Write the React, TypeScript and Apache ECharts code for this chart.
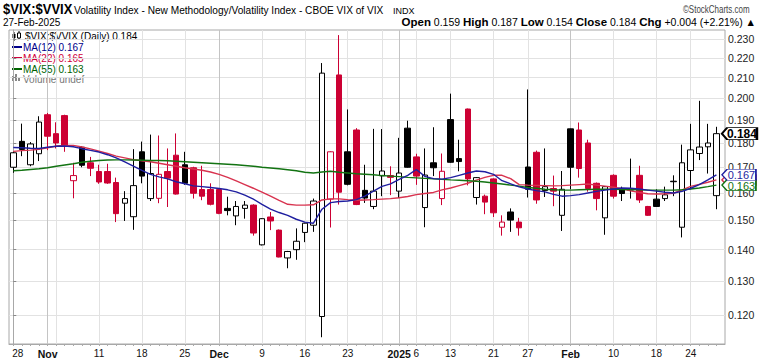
import { useEffect, useRef } from 'react';
import * as echarts from 'echarts';

const dates = [
  '2024-10-28','2024-10-29','2024-10-30','2024-10-31',
  '2024-11-01','2024-11-04','2024-11-05','2024-11-06','2024-11-07','2024-11-08','2024-11-11','2024-11-12','2024-11-13','2024-11-14','2024-11-15','2024-11-18','2024-11-19','2024-11-20','2024-11-21','2024-11-22','2024-11-25','2024-11-26','2024-11-27','2024-11-29',
  '2024-12-02','2024-12-03','2024-12-04','2024-12-05','2024-12-06','2024-12-09','2024-12-10','2024-12-11','2024-12-12','2024-12-13','2024-12-16','2024-12-17','2024-12-18','2024-12-19','2024-12-20','2024-12-23','2024-12-24','2024-12-26','2024-12-27','2024-12-30','2024-12-31',
  '2025-01-02','2025-01-03','2025-01-06','2025-01-07','2025-01-08','2025-01-10','2025-01-13','2025-01-14','2025-01-15','2025-01-16','2025-01-17','2025-01-21','2025-01-22','2025-01-23','2025-01-24','2025-01-27','2025-01-28','2025-01-29','2025-01-30','2025-01-31',
  '2025-02-03','2025-02-04','2025-02-05','2025-02-06','2025-02-07','2025-02-10','2025-02-11','2025-02-12','2025-02-13','2025-02-14','2025-02-18','2025-02-19','2025-02-20','2025-02-21','2025-02-24','2025-02-25','2025-02-26','2025-02-27'
];

const opens = [0.170,0.1807,0.171,0.1755,0.1924,0.184,0.192,0.1647,0.1782,0.1718,
0.1683,0.1683,0.164,0.1562,0.1513,0.1763,0.1579,0.158,0.1683,0.1749,
0.171,0.1698,0.1613,0.1613,0.1613,0.1543,0.1516,0.1543,0.1555,0.1416,
0.1512,0.1466,0.1373,0.140,0.1458,0.1483,0.1196,0.1577,0.2113,0.1763,
0.1856,0.161,0.155,0.1666,0.1667,0.1607,0.1864,0.1742,0.1546,0.1718,
0.1579,0.1902,0.1735,0.195,0.1583,0.1588,0.1654,0.1476,0.153,0.1494,
0.1701,0.1761,0.1609,0.1617,0.1518,0.1861,0.1856,0.180,0.1637,0.1509,
0.1668,0.1614,0.1613,0.1668,0.155,0.1577,0.1579,0.1645,0.1476,0.1687,
0.1756,0.1784,0.159];

const highs = [0.1764,0.1884,0.1804,0.1917,0.1932,0.189,0.1924,0.1718,0.1786,0.1742,
0.171,0.1714,0.1659,0.1607,0.1774,0.1806,0.1836,0.1832,0.1777,0.1841,
0.1763,0.1702,0.1706,0.1637,0.1616,0.1586,0.157,0.157,0.1558,0.1508,
0.153,0.1468,0.1396,0.1472,0.1492,0.1579,0.2173,0.1765,0.2321,0.1948,
0.1864,0.171,0.1861,0.186,0.1704,0.1822,0.1897,0.1755,0.1777,0.1868,
0.1756,0.2022,0.1814,0.1952,0.1661,0.1594,0.1656,0.1518,0.1543,0.1509,
0.2042,0.1768,0.1777,0.1667,0.1685,0.1862,0.1889,0.1814,0.164,0.1626,
0.1672,0.1624,0.1735,0.1706,0.1552,0.1614,0.1624,0.1668,0.1793,0.1883,
0.1988,0.1883,0.187];

const lows = [0.1678,0.1745,0.1704,0.1725,0.177,0.1777,0.1763,0.158,0.170,0.1665,
0.1635,0.1635,0.1494,0.1498,0.1467,0.1637,0.157,0.1562,0.1548,0.1594,
0.1631,0.1579,0.1573,0.1554,0.1522,0.1518,0.1483,0.1506,0.1447,0.1414,
0.1466,0.1375,0.134,0.1367,0.1425,0.146,0.1139,0.1475,0.1557,0.1629,
0.1555,0.1563,0.154,0.1588,0.1592,0.1581,0.1698,0.1631,0.1476,0.1665,
0.1555,0.1718,0.1684,0.1629,0.1557,0.1522,0.1512,0.1447,0.146,0.1447,
0.1583,0.156,0.1585,0.1551,0.1463,0.1614,0.1659,0.1605,0.1536,0.145,
0.1579,0.157,0.1579,0.1563,0.1516,0.1548,0.157,0.1588,0.1441,0.1614,
0.1729,0.1675,0.154];

const closes = [0.1759,0.1773,0.1796,0.1891,0.1829,0.180,0.1786,0.1667,0.1708,0.1696,
0.1642,0.1638,0.1524,0.1579,0.1628,0.1665,0.1675,0.1672,0.1657,0.1596,
0.1637,0.1599,0.1588,0.1558,0.1525,0.1535,0.155,0.1555,0.1456,0.1506,
0.1498,0.1376,0.1394,0.1428,0.149,0.157,0.2122,0.1763,0.1603,0.1633,
0.1557,0.1581,0.1607,0.1685,0.166,0.1677,0.170,0.1665,0.1669,0.1698,
0.1684,0.172,0.1723,0.1654,0.1659,0.1566,0.1527,0.1494,0.1501,0.1474,
0.1614,0.1574,0.1624,0.1607,0.1614,0.170,0.1695,0.1617,0.1579,0.1624,
0.1588,0.1598,0.1611,0.1574,0.1518,0.155,0.1593,0.1643,0.1718,0.1771,
0.1783,0.180,0.184];

const ma12 = [0.1781,0.178,0.1778,0.1777,0.1782,0.1786,0.1787,0.1784,0.1776,0.1769,
0.1762,0.1751,0.1738,0.1722,0.1705,0.1688,0.1672,0.1662,0.1654,0.1643,
0.1635,0.1627,0.1624,0.1621,0.1617,0.1612,0.1604,0.1592,0.1577,0.1558,
0.154,0.1528,0.1518,0.1504,0.1494,0.149,0.154,0.1564,0.1568,0.157,
0.1575,0.1588,0.1607,0.1625,0.1635,0.1652,0.1668,0.1691,0.1664,0.1655,
0.1653,0.1659,0.1668,0.1677,0.1685,0.1682,0.1672,0.1647,0.1635,0.1623,
0.1615,0.1609,0.1604,0.1595,0.1588,0.159,0.1594,0.16,0.1606,0.1611,
0.1615,0.1619,0.1618,0.1615,0.1611,0.1607,0.1603,0.16,0.1606,0.1618,
0.1632,0.165,0.167];

const ma22 = [0.1765,0.1768,0.177,0.1773,0.178,0.1787,0.179,0.179,0.1783,0.1775,
0.1766,0.1756,0.1745,0.1738,0.1731,0.1726,0.1722,0.1716,0.171,0.1704,
0.1698,0.1693,0.1688,0.1681,0.1672,0.166,0.1646,0.1632,0.1618,0.1603,
0.1588,0.1572,0.1558,0.1555,0.1555,0.1556,0.1574,0.1578,0.1578,0.1575,
0.1573,0.1574,0.1575,0.1577,0.1579,0.1582,0.1587,0.1594,0.1598,0.1602,
0.1612,0.1619,0.1628,0.1637,0.1649,0.166,0.1668,0.1668,0.1655,0.1632,
0.163,0.1629,0.1628,0.1627,0.1628,0.163,0.1632,0.1634,0.163,0.1626,
0.1622,0.1616,0.1608,0.1602,0.1597,0.1596,0.1597,0.1599,0.1612,0.1625,
0.1633,0.1641,0.165];

const ma55 = [0.1686,0.1688,0.1691,0.1694,0.1698,0.1704,0.1709,0.1714,0.172,0.1724,
0.1727,0.1729,0.173,0.173,0.1729,0.1728,0.1727,0.1727,0.1726,0.1724,
0.1722,0.172,0.1718,0.1716,0.1714,0.1712,0.171,0.1707,0.1704,0.17,
0.1697,0.1694,0.169,0.1686,0.168,0.1677,0.1681,0.1684,0.168,0.1677,
0.1674,0.1672,0.167,0.1667,0.1665,0.1663,0.166,0.1658,0.1656,0.1654,
0.1652,0.165,0.1649,0.1647,0.1645,0.1642,0.1638,0.1634,0.163,0.1626,
0.1621,0.1618,0.1614,0.1612,0.1611,0.1611,0.1612,0.1613,0.1614,0.1614,
0.1614,0.1613,0.1613,0.1612,0.1611,0.1611,0.1611,0.1611,0.1612,0.1615,
0.1619,0.1624,0.163];

const priceTicks = [0.12,0.13,0.14,0.15,0.16,0.17,0.18,0.19,0.20,0.21,0.22,0.23];
const labelDates = ['2024-10-28','2024-11-01','2024-11-11','2024-11-18','2024-11-25','2024-12-02','2024-12-09','2024-12-16','2024-12-23','2025-01-02','2025-01-06','2025-01-13','2025-01-21','2025-01-27','2025-02-03','2025-02-10','2025-02-18','2025-02-24'];
const labelTexts = ['28','Nov','11','18','25','Dec','9','16','23','2025','6','13','21','27','Feb','10','18','24'];
const monthLabels = ['Nov','Dec','2025','Feb'];

const FONT = '"Liberation Sans", Arial, sans-serif';
const UP_RED = '#cc0033';
const BLUE = '#1f1fa0';
const RED = '#d8334f';
const GREEN = '#127312';

export default function App() {
  const ref = useRef<HTMLDivElement>(null);
  useEffect(() => {
    const chart = echarts.init(ref.current!, null, { renderer: 'svg' });
    const idx = dates.map((_, i) => i);
    const weekStart = idx.filter((i) => {
      if (i === 0) return false;
      const d = new Date(dates[i] + 'T00:00:00Z');
      const p = new Date(dates[i - 1] + 'T00:00:00Z');
      return d.getUTCDay() < p.getUTCDay() || (d.getTime() - p.getTime()) > 3 * 86400000;
    });
    const monthStart = idx.filter((i) => i > 0 && dates[i].slice(0, 7) !== dates[i - 1].slice(0, 7));
    const weekLines = weekStart.filter((i) => monthStart.indexOf(i) < 0);
    const labelIdx = labelDates.map((d) => dates.indexOf(d));
    const labelMap: Record<number, string> = {};
    labelIdx.forEach((k, j) => { labelMap[k] = labelTexts[j]; });

    const ln = Math.log;
    const candleData = idx.map((i) => {
      const up = closes[i] >= opens[i];
      const black = i === 0 || closes[i] >= closes[i - 1];
      const c = black ? '#000' : UP_RED;
      return {
        value: [i, ln(opens[i]), ln(closes[i]), ln(lows[i]), ln(highs[i])],
        itemStyle: up
          ? { color: '#fff', borderColor: c, color0: '#fff', borderColor0: c }
          : { color: c, borderColor: c, color0: c, borderColor0: c },
      };
    });
    const last = idx.length - 1;
    const tag = (val: number, color: string, bold: boolean, z: number) => ({
      z,
      silent: true,
      data: [{ coord: [last, ln(val)], value: val }],
      symbol: 'path://M0,6L6,0L40,0L40,12L6,12Z',
      symbolKeepAspect: false,
      symbolSize: bold ? [35, 12] : [34, 11],
      symbolOffset: [bold ? 23 : 22.5, 0],
      itemStyle: { color: '#fff', borderColor: color, borderWidth: bold ? 1.5 : 1 },
      label: {
        show: true, position: 'inside', offset: [2.5, 0.5],
        formatter: () => val.toFixed(3), color: bold ? '#000' : color,
        fontSize: bold ? 12 : 11, fontWeight: bold ? 'bold' : 'normal', fontFamily: FONT,
      },
    });
    const lineSeries = (name: string, vals: number[], color: string, val: number, z: number) => ({
      name, type: 'line', xAxisIndex: 0, yAxisIndex: 0,
      data: vals.map((v, i) => [i, ln(v)]),
      showSymbol: false, symbol: 'none', smooth: false,
      lineStyle: { color, width: 1.4 }, z: 3,
      markPoint: tag(val, color, false, z),
    });

    const txt = (x: number, y: number, text: string, font: string, fill: string, extra: any = {}) => ({
      type: 'text', silent: true, x, y, ...extra,
      style: { text, font, fill, align: 'left', verticalAlign: 'top', ...(extra.style || {}) },
    });
    const LEG = '10px ' + FONT;
    const option: any = {
      animation: false,
      backgroundColor: '#fff',
      grid: { left: 9, right: 41, top: 30, bottom: 14, show: true, borderColor: '#a8a8a8', borderWidth: 1, containLabel: false },
      xAxis: [
        {
          type: 'value', min: -0.5, max: 83, position: 'bottom',
          axisLine: { show: true, lineStyle: { color: '#a8a8a8' } },
          axisTick: { show: false, customValues: weekLines },
          splitLine: { show: true, lineStyle: { color: '#e2e2e2', width: 1 } },
          axisLabel: {
            customValues: labelIdx, margin: 4, color: '#111', fontSize: 10, fontFamily: FONT,
            formatter: (v: number) => {
              const t = labelMap[Math.round(v)] || '';
              if (Math.round(v) === 0) return '{f|' + t + '}';
              return monthLabels.indexOf(t) >= 0 ? '{b|' + t + '}' : t;
            },
            rich: {
              b: { fontWeight: 'bold', fontSize: 10.5, fontFamily: FONT, color: '#111' },
              f: { padding: [0, 0, 0, 9], fontSize: 10, fontFamily: FONT, color: '#111' },
            },
          },
        },
        {
          type: 'value', min: -0.5, max: 83, position: 'top',
          axisLine: { show: false }, axisLabel: { show: false },
          axisTick: { show: false, customValues: monthStart },
          splitLine: { show: true, lineStyle: { color: '#c4c4c4', width: 1 } },
        },
        {
          type: 'value', min: -0.5, max: 83, position: 'bottom', offset: 0,
          axisLine: { show: false }, axisLabel: { show: false },
          axisTick: { show: true, customValues: idx, length: 2, lineStyle: { color: '#aaa' } },
          splitLine: { show: false },
        },
      ],
      yAxis: {
        type: 'value', position: 'right', min: ln(0.1121), max: ln(0.2349),
        axisLine: { show: true, lineStyle: { color: '#a8a8a8' } },
        axisTick: { show: true, inside: false, length: 3, customValues: priceTicks.map((p) => ln(p)), lineStyle: { color: '#888' } },
        splitLine: { show: true, lineStyle: { color: '#e2e2e2', width: 1 } },
        axisLabel: {
          customValues: priceTicks.map((p) => ln(p)), margin: 3, color: '#222', fontSize: 10.5,
          fontFamily: FONT,
          formatter: (v: number) => Math.exp(v).toFixed(3),
        },
      },
      series: [
        {
          name: '$VIX:$VVIX', type: 'candlestick', xAxisIndex: 0, yAxisIndex: 0,
          data: candleData, barWidth: 6, z: 2,
          itemStyle: { borderWidth: 1 },
          markPoint: tag(closes[last], '#000', true, 8),
        },
        lineSeries('MA(22)', ma22, RED, ma22[last], 5),
        lineSeries('MA(55)', ma55, GREEN, ma55[last], 6),
        lineSeries('MA(12)', ma12, BLUE, ma12[last], 7),
      ],
      graphic: [
        txt(3, 1, '$VIX:$VVIX', 'bold 15.5px ' + FONT, '#000', { scaleX: 0.84 }),
        txt(74, 4, 'Volatility Index - New Methodology/Volatility Index - CBOE VIX of VIX', '11.5px ' + FONT, '#000', { scaleX: 0.88 }),
        txt(393, 6, 'INDX', '9px ' + FONT, '#000'),
        txt(683, 4, '©StockCharts.com', '10.5px ' + FONT, '#444', { scaleX: 0.76 }),
        txt(3, 17, '27-Feb-2025', '10px ' + FONT, '#000'),
        {
          type: 'text', silent: true, x: 756, y: 16,
          style: {
            text: '{b|Open} 0.159 {b|High} 0.187 {b|Low} 0.154 {b|Close} 0.184 {b|Chg} +0.004 (+2.21%) ▲',
            font: '10.5px ' + FONT, fill: '#000', align: 'right', verticalAlign: 'top',
            rich: { b: { font: 'bold 11.5px ' + FONT, fill: '#000' } },
          },
        },
        // legend
        { type: 'line', silent: true, shape: { x1: 14, y1: 32, x2: 14, y2: 41 }, style: { stroke: '#000', lineWidth: 1 } },
        { type: 'rect', silent: true, shape: { x: 12.5, y: 34, width: 3, height: 4 }, style: { fill: '#000' } },
        { type: 'line', silent: true, shape: { x1: 19, y1: 31, x2: 19, y2: 40 }, style: { stroke: '#000', lineWidth: 1 } },
        { type: 'rect', silent: true, shape: { x: 17.5, y: 33, width: 3, height: 5 }, style: { fill: '#fff', stroke: '#000', lineWidth: 1 } },
        txt(25, 31, '$VIX:$VVIX (Daily) 0.184', LEG, '#000'),
        { type: 'line', silent: true, shape: { x1: 12, y1: 47, x2: 22, y2: 47 }, style: { stroke: '#00008b', lineWidth: 2 } },
        txt(23, 42, 'MA(12) 0.167', LEG, '#00008b'),
        { type: 'line', silent: true, shape: { x1: 12, y1: 58, x2: 22, y2: 58 }, style: { stroke: '#d0003a', lineWidth: 2 } },
        txt(23, 53, 'MA(22) 0.165', LEG, '#d0003a'),
        { type: 'line', silent: true, shape: { x1: 12, y1: 69, x2: 22, y2: 69 }, style: { stroke: '#006400', lineWidth: 2 } },
        txt(23, 64, 'MA(55) 0.163', LEG, '#006400'),
        { type: 'rect', silent: true, shape: { x: 12, y: 76, width: 2, height: 5 }, style: { fill: '#888' } },
        { type: 'rect', silent: true, shape: { x: 15, y: 74, width: 2, height: 7 }, style: { fill: '#888' } },
        { type: 'rect', silent: true, shape: { x: 18, y: 77, width: 2, height: 4 }, style: { fill: '#888' } },
        txt(23, 74, 'Volume undef', LEG, '#777'),
      ],
    };
    chart.setOption(option);
    return () => chart.dispose();
  }, []);
  return <div ref={ref} style={{ position: 'absolute', left: 0, top: 0, width: 766, height: 359 }} />;
}
